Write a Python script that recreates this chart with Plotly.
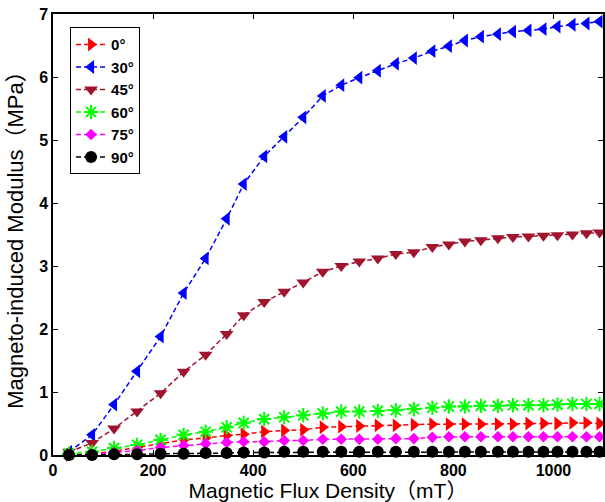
import plotly.graph_objects as go

# Magnetic flux density (mT)
flux_mT = [32, 78, 122, 168, 215, 261, 305, 347, 381, 422, 462, 500, 539, 576, 612,
           649, 685, 721, 758, 791, 823, 855, 889, 919, 950, 980, 1008, 1038, 1066, 1092]

# Magneto-induced modulus (MPa) for each angle
mod_0 = [0.00, 0.02, 0.06, 0.12, 0.17, 0.24, 0.27, 0.31, 0.33, 0.37, 0.39, 0.40, 0.44, 0.45, 0.46,
         0.47, 0.47, 0.48, 0.49, 0.49, 0.49, 0.49, 0.49, 0.49, 0.50, 0.50, 0.50, 0.51, 0.51, 0.50]
mod_30 = [0.05, 0.32, 0.80, 1.33, 1.88, 2.57, 3.12, 3.75, 4.30, 4.74, 5.05, 5.36, 5.70, 5.87, 5.99,
          6.10, 6.21, 6.30, 6.41, 6.49, 6.58, 6.64, 6.68, 6.72, 6.74, 6.76, 6.80, 6.83, 6.85, 6.88]
mod_45 = [0.05, 0.19, 0.42, 0.69, 0.98, 1.32, 1.59, 1.92, 2.22, 2.43, 2.59, 2.74, 2.91, 3.00, 3.07,
          3.12, 3.19, 3.22, 3.30, 3.34, 3.39, 3.41, 3.44, 3.46, 3.47, 3.48, 3.49, 3.50, 3.52, 3.53]
mod_60 = [0.02, 0.05, 0.11, 0.16, 0.24, 0.32, 0.37, 0.44, 0.51, 0.57, 0.60, 0.63, 0.66, 0.69, 0.69,
          0.70, 0.71, 0.73, 0.75, 0.77, 0.77, 0.78, 0.78, 0.79, 0.79, 0.79, 0.80, 0.81, 0.81, 0.81]
mod_75 = [0.00, 0.01, 0.04, 0.07, 0.12, 0.15, 0.18, 0.20, 0.21, 0.21, 0.23, 0.23, 0.25, 0.25, 0.25,
          0.25, 0.26, 0.26, 0.28, 0.29, 0.29, 0.29, 0.29, 0.29, 0.29, 0.29, 0.29, 0.29, 0.29, 0.29]
mod_90 = [0.00, 0.00, 0.01, 0.01, 0.02, 0.02, 0.03, 0.03, 0.04, 0.04, 0.05, 0.05, 0.05, 0.05, 0.05,
          0.05, 0.05, 0.05, 0.05, 0.05, 0.05, 0.05, 0.05, 0.05, 0.05, 0.05, 0.05, 0.05, 0.05, 0.05]

labels = ["0°", "30°", "45°", "60°", "75°", "90°"]
series = [mod_0, mod_30, mod_45, mod_60, mod_75, mod_90]
colors = ["#FF0000", "#0000FF", "#A0152E", "#00FF00", "#FF00FF", "#000000"]
symbols = ["triangle-right", "triangle-left", "triangle-down", "asterisk-open", "diamond", "circle"]
sizes = [12, 12, 12, 12, 9, 12]

x_ticks = [0, 200, 400, 600, 800, 1000]
y_ticks = [0, 1, 2, 3, 4, 5, 6, 7]

FONT = "Liberation Sans, Arial, Noto Sans CJK SC, sans-serif"

fig = go.Figure()
for lab, ys, col, sym, sz in zip(labels, series, colors, symbols, sizes):
    marker = dict(symbol=sym, size=sz, color=col)
    if sym == "asterisk-open":
        marker["line"] = dict(color=col, width=2)
    else:
        marker["line"] = dict(color=col, width=0)
    fig.add_trace(go.Scatter(
        x=flux_mT, y=ys, name=lab, mode="lines+markers",
        line=dict(color=col, width=1.5, dash="5px,3px"),
        marker=marker, cliponaxis=False,
    ))

axis_common = dict(
    showline=True, linecolor="black", linewidth=1.5, mirror="allticks",
    ticks="inside", ticklen=5, tickwidth=1, tickcolor="black",
    showgrid=False, zeroline=False,
    tickfont=dict(family=FONT, size=16, color="black", weight="bold"),
)

fig.update_xaxes(
    range=[0, 1099], tickvals=x_ticks, ticktext=[str(v) for v in x_ticks],
    title=dict(text="Magnetic Flux Density（mT）", font=dict(family=FONT, size=21, color="black"), standoff=4),
    **axis_common,
)
fig.update_yaxes(
    range=[0, 7], tickvals=y_ticks, ticktext=[str(v) for v in y_ticks],
    ticklabeloverflow="allow",
    title=dict(text="Magneto-induced Modulus（MPa）", font=dict(family=FONT, size=22, color="black"), standoff=9),
    **axis_common,
)

fig.update_layout(
    width=605, height=502,
    margin=dict(l=53, r=0, t=14, b=47),
    paper_bgcolor="white", plot_bgcolor="white",
    font=dict(family=FONT, color="black"),
    legend=dict(
        x=0.031, y=0.97, xanchor="left", yanchor="top",
        bgcolor="white", bordercolor="black", borderwidth=1,
        font=dict(family=FONT, size=15, color="black", weight="bold"),
        tracegroupgap=0, itemwidth=30,
    ),
    showlegend=True,
)

# remove the browser's default 8px body margin so the figure sits at (0, 0)
fig.write_html(
    "out.html",
    config={"displayModeBar": False},
    post_script="document.body.style.margin='0';document.body.style.overflow='hidden';",
)
